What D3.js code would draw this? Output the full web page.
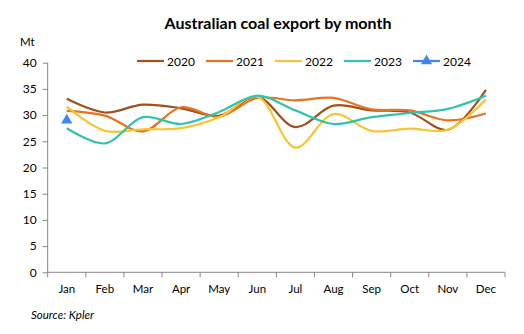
<!DOCTYPE html>
<html><head><meta charset="utf-8">
<script src="https://cdn.jsdelivr.net/npm/d3@7"></script>
<style>body{margin:0;background:#fff}svg{display:block}text{font-family:Lato,"Open Sans",sans-serif}</style>
</head><body><svg id="c" width="524" height="334"></svg>
<script>
const months = ["Jan","Feb","Mar","Apr","May","Jun","Jul","Aug","Sep","Oct","Nov","Dec"];
const yTicks = [0,5,10,15,20,25,30,35,40];
const s2020 = [33.1,30.5,32.0,31.3,29.9,33.5,27.7,31.8,30.9,30.5,27.2,34.8];
const s2021 = [30.8,29.9,26.9,31.5,29.7,33.3,32.8,33.3,31.1,30.9,29.0,30.3];
const s2022 = [31.6,27.0,27.3,27.5,29.6,33.5,23.8,30.2,27.0,27.4,27.2,33.0];
const s2023 = [27.5,24.6,29.6,28.3,30.6,33.7,30.9,28.3,29.6,30.4,31.2,33.7];
const s2024 = [29.0];
const series = [
  {name:"2020", values:s2020, color:"#A0501A"},
  {name:"2021", values:s2021, color:"#E8731F"},
  {name:"2022", values:s2022, color:"#F7C531"},
  {name:"2023", values:s2023, color:"#2FC3B0"},
  {name:"2024", values:s2024, color:"#3F87F5", marker:true}
];
const FONT = 'Lato,"Open Sans",sans-serif';
const svg = d3.select("#c");
const x = d3.scaleBand().domain(months).range([47.7,505]);
const y = d3.scaleLinear().domain([0,40]).range([272.3,62.7]);
const axisColor = "#868686";

svg.append("text").attr("x",278).attr("y",29).attr("text-anchor","middle")
  .attr("font-size",16).attr("font-weight","bold").attr("fill","#000").text("Australian coal export by month");
svg.append("text").attr("x",20).attr("y",46).attr("font-size",11.5).attr("fill","#000").text("Mt");

const ya = svg.append("g").attr("transform","translate(47.7,0)")
  .call(d3.axisLeft(y).tickValues(yTicks).tickSize(5).tickPadding(6));
ya.select(".domain").attr("stroke",axisColor).attr("d","M0,62.7V272.3");
ya.selectAll(".tick line").attr("stroke",axisColor);
ya.selectAll(".tick text").attr("font-size",12).attr("fill","#000").attr("font-family",FONT);

const xa = svg.append("g").attr("transform","translate(0,272.3)")
  .call(d3.axisBottom(x).tickSize(0).tickPadding(13));
xa.select(".domain").attr("stroke",axisColor).attr("d","M47.7,0H505");
xa.selectAll(".tick text").attr("font-size",11.5).attr("fill","#000").attr("font-family",FONT);
const edges = d3.range(months.length+1).map(i => i===months.length ? x.range()[1] : x(months[i]));
svg.append("g").selectAll("line").data(edges).join("line")
  .attr("x1",d=>d).attr("x2",d=>d).attr("y1",272.3).attr("y2",277.3).attr("stroke",axisColor);

const line = d3.line().x((d,i)=>x(months[i])+x.bandwidth()/2).y(d=>y(d)).curve(d3.curveCatmullRom.alpha(0.5));
series.filter(s=>!s.marker).forEach(s=>{
  svg.append("path").attr("d",line(s.values)).attr("fill","none").attr("stroke",s.color).attr("stroke-width",2.2);
});
const tri = d3.symbol().type(d3.symbolTriangle).size(55);
series.filter(s=>s.marker).forEach(s=>{
  svg.append("g").selectAll("path").data(s.values).join("path")
    .attr("d",tri).attr("fill",s.color)
    .attr("transform",(d,i)=>`translate(${x(months[i])+x.bandwidth()/2},${y(d)})`);
});

// legend
const lg = svg.append("g");
series.forEach((s,i)=>{
  const lx = 137 + i*69;
  lg.append("line").attr("x1",lx).attr("x2",lx+27).attr("y1",61).attr("y2",61).attr("stroke",s.color).attr("stroke-width",2.2);
  if (s.marker) lg.append("path").attr("d",tri).attr("fill",s.color).attr("transform",`translate(${lx+13.5},61)`);
  lg.append("text").attr("x",lx+30).attr("y",65.5).attr("font-size",12).attr("fill","#000").text(s.name);
});

svg.append("text").attr("x",31).attr("y",319).attr("font-size",11.5).attr("font-style","italic").attr("fill","#000").text("Source:  Kpler");
</script></body></html>
